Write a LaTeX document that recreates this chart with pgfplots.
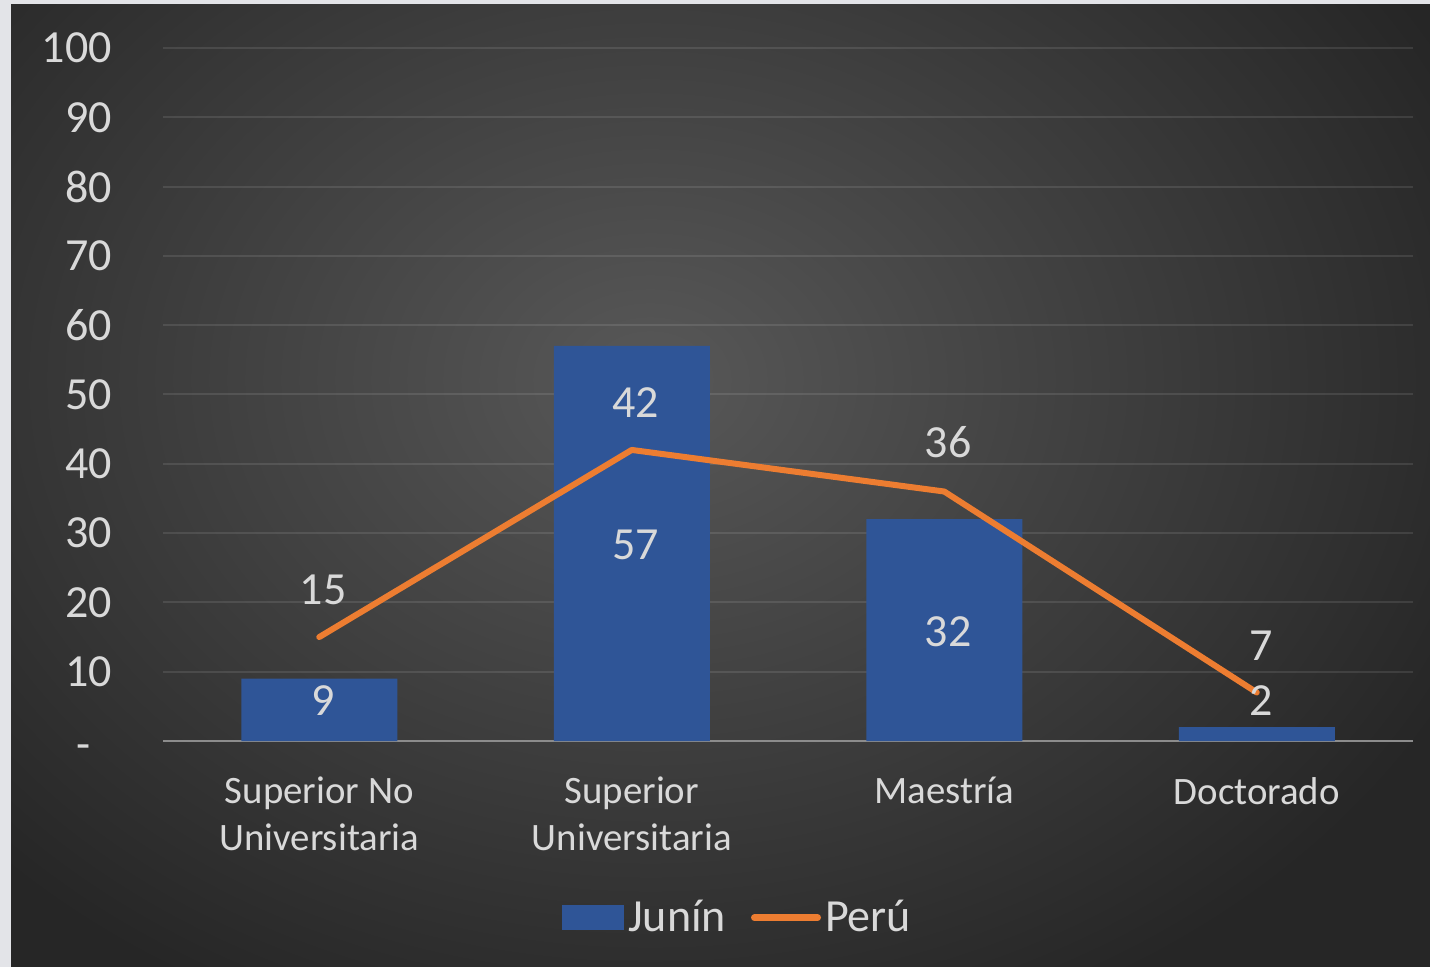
\documentclass[border=0pt]{standalone}
\usepackage{fontspec}
\setmainfont{Carlito}
\usepackage{pgfplots}
\pgfplotsset{compat=1.18}
\usepackage{pgfplotstable}
\definecolor{bgcenter}{HTML}{585858}
\definecolor{bgouter}{HTML}{262626}
\definecolor{bordercol}{HTML}{E3E4E8}
\definecolor{barblue}{HTML}{2F5597}
\definecolor{lineorange}{HTML}{ED7D31}
\definecolor{txt}{HTML}{D9D9D9}
\definecolor{basecol}{HTML}{8C8C8C}

\pgfplotstableread{
x y
0 9
1 57
2 32
3 2
}\junin
\pgfplotstableread{
x y
0 15
1 42
2 36
3 7
}\peru
\pgfplotstableread{
x y label
0 5.8 9
1 28.3 57
2 15.7 32
3 5.9 2
}\juninlabels
\pgfplotstableread{
x y label
0 21.8 15
1 48.8 42
2 43.1 36
3 13.7 7
}\perulabels

\begin{document}
\begin{tikzpicture}[font=\fontsize{23}{24}\selectfont]
\begin{scope}[x=0.5pt,y=-0.5pt]
\fill[bordercol] (0,0) rectangle (1430,967);
\begin{scope}
\clip (11,5) rectangle (1430,967);
\shade[inner color=bgcenter, outer color=bgouter] (-250,-320) rectangle (1550,1080);
\end{scope}
\end{scope}
\begin{axis}[
  at={(81.5pt,-370.5pt)}, anchor=south west,
  scale only axis, width=625pt, height=346.5pt,
  xmin=-0.5, xmax=3.5, ymin=0, ymax=100,
  clip=false,
  axis line style={draw=none},
  major tick length=0pt,
  ytick={0,10,...,100},
  yticklabels={{\raisebox{-2pt}[0pt][0pt]{-}\vphantom{0}\hspace*{10.5pt}\mbox{}},10,20,30,40,50,60,70,80,90,100},
  yticklabel style={anchor=east, xshift=-22pt, text=txt},
  xtick={0,1,2,3},
  xticklabels={{Superior No\\Universitaria},{Superior\\Universitaria},{Maestría},{Doctorado}},
  xticklabel style={align=center, anchor=north, yshift=-14.5pt, text=txt,
    font=\fontsize{19.4}{23.5}\selectfont},
  /pgf/number format/assume math mode=true,
  ymajorgrids,
  grid style={white, opacity=0.1, line width=1pt},
  extra y ticks={0},
  extra y tick labels={},
  extra y tick style={grid style={draw=basecol, opacity=1, line width=1pt}},
  legend style={at={(0.4605,-0.255)}, anchor=center, draw=none, fill=none,
    legend columns=2, text=txt, nodes={inner xsep=2pt},
    /tikz/every even column/.append style={column sep=10.5pt}},
]
\addplot[ybar, bar width=78pt, fill=barblue, draw=none,
  legend image code/.code={\fill[barblue] (0pt,-6.25pt) rectangle (31pt,6.25pt);}]
  table[x=x,y=y] {\junin};
\addlegendentry{Junín}
\addplot[lineorange, line width=3pt, line cap=round, line join=round, mark=none,
  legend image code/.code={\draw[lineorange, line width=3.5pt, line cap=round] (1.75pt,0pt) -- (33.25pt,0pt);}]
  table[x=x,y=y] {\peru};
\addlegendentry{Perú}
\addplot[only marks, mark=none, forget plot, nodes near coords, point meta=explicit symbolic,
  every node near coord/.append style={anchor=center, text=txt, xshift=2pt}]
  table[x=x,y=y,meta=label] {\juninlabels};
\addplot[only marks, mark=none, forget plot, nodes near coords, point meta=explicit symbolic,
  every node near coord/.append style={anchor=center, text=txt, xshift=2pt}]
  table[x=x,y=y,meta=label] {\perulabels};
\end{axis}
\end{tikzpicture}
\end{document}
